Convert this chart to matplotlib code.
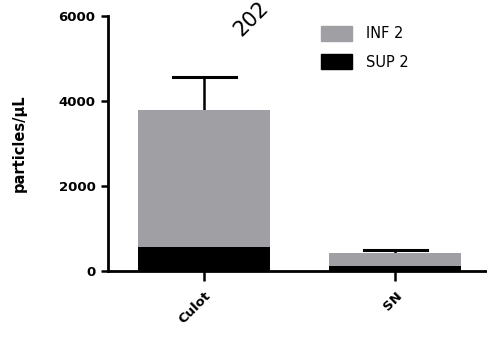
import matplotlib.pyplot as plt
import matplotlib.transforms as mtransforms
from matplotlib.patches import Patch

plt.rcParams['font.family'] = ['DejaVu Sans']

groups = ["Culot", "SN"]
sup2 = [570, 120]
total = [3800, 430]
err_top = [4560, 490]
series = ["INF 2", "SUP 2"]
gray = "#a09fa4"

fig = plt.figure(figsize=(4.87, 3.39), dpi=100)
ax = fig.add_axes([0.2218, 0.2006, 0.7782, 0.752])

x = [0, 1]
inf2 = [t - s for t, s in zip(total, sup2)]
ax.bar(x, sup2, width=0.69, color="black", zorder=2)
ax.bar(x, inf2, width=0.69, bottom=sup2, color=gray, zorder=2)
# upper error bars only
for xi, t, e in zip(x, total, err_top):
    ax.plot([xi, xi], [t, e], color="black", lw=1.8, zorder=1)
    ax.plot([xi - 0.165, xi + 0.165], [e, e], color="black", lw=2.2, zorder=1)

ax.set_xlim(-0.503, 1.48)
ax.set_ylim(0, 6000)
ax.set_yticks([0, 2000, 4000, 6000])
ax.set_xticks(x)
ax.set_xticklabels(groups, rotation=45, ha="right", va="top",
                   rotation_mode="anchor", fontweight="bold", fontsize=9.5)
shift = mtransforms.ScaledTranslation(7 / 100, 0, fig.dpi_scale_trans)
for lab in ax.get_xticklabels():
    lab.set_transform(lab.get_transform() + shift)
for lab in ax.get_yticklabels():
    lab.set_fontweight("bold")
    lab.set_fontsize(9.5)
ax.tick_params(axis="y", width=1.8, length=5, pad=4)
ax.tick_params(axis="x", width=1.8, length=7, pad=6)
ax.spines[["top", "right"]].set_visible(False)
ax.spines["left"].set_linewidth(2)
ax.spines["bottom"].set_linewidth(2)
ax.set_ylabel("particles/µL", fontweight="bold", fontsize=10.5, labelpad=23)

handles = [Patch(color=gray), Patch(color="black")]
ax.legend(handles, series, loc="upper left", bbox_to_anchor=(0.528, 1.012),
          frameon=False, fontsize=10.5, handlelength=2.12, handleheight=1.16,
          handletextpad=0.96, labelspacing=0.9)

fig.text(244 / 487, 1 - 40 / 339, "202", rotation=45, fontsize=15,
         color="black", ha="left", va="bottom", rotation_mode="anchor")

fig.savefig("out.png", dpi=100)
